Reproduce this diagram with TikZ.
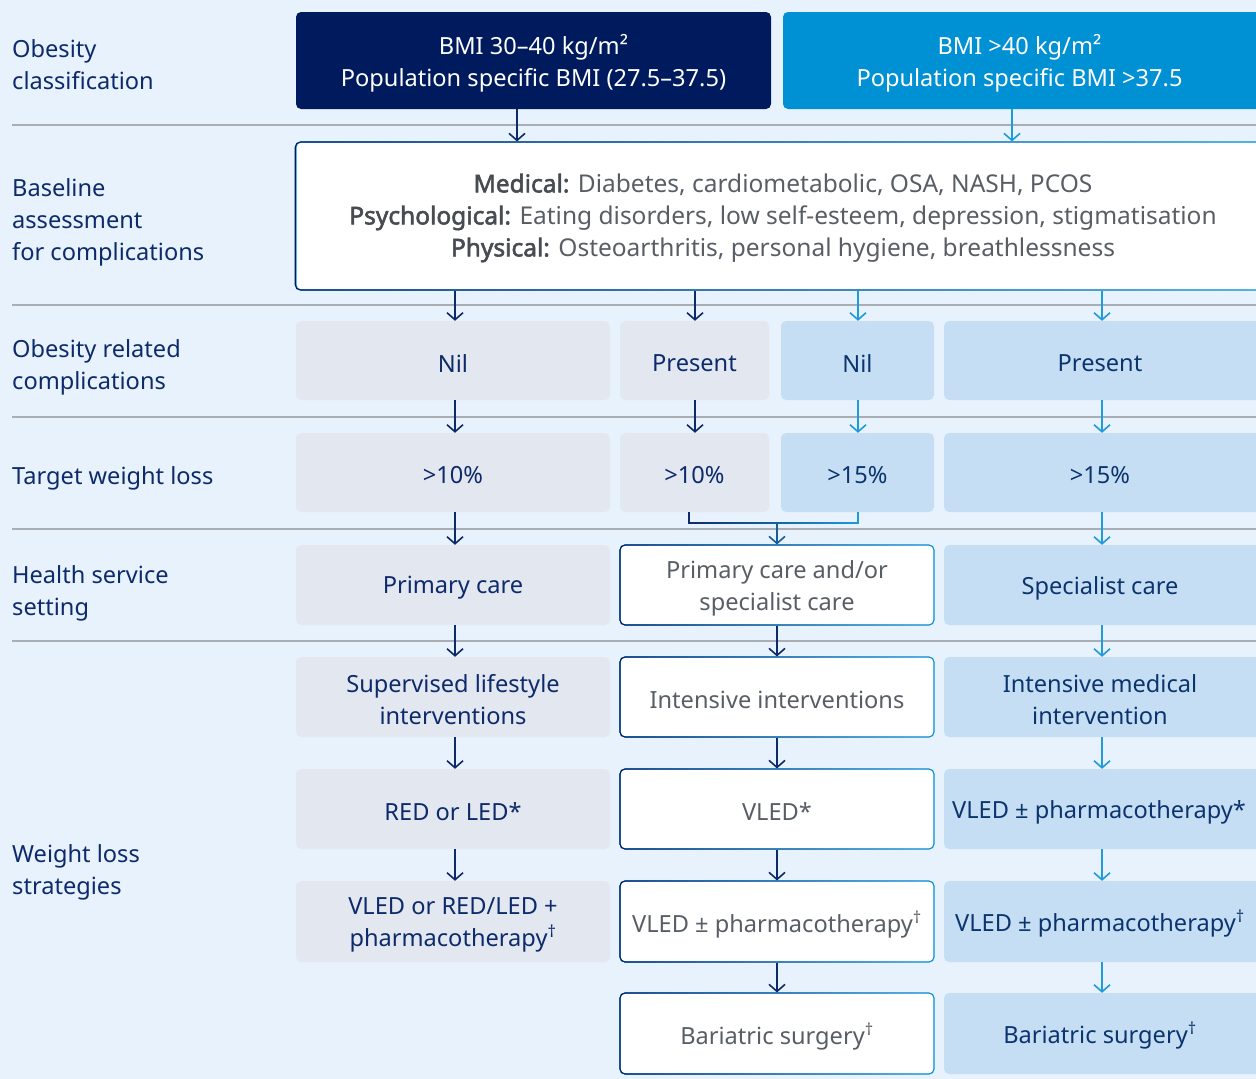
\documentclass[tikz,border=0pt]{standalone}
\usepackage{fontspec}
\setmainfont{Noto Sans}[BoldFont={Noto Sans}, BoldFeatures={FakeBold=2.2}]
\usetikzlibrary{arrows.meta,fadings}
\definecolor{bg}{HTML}{E8F2FC}
\definecolor{navy}{HTML}{001A5E}
\definecolor{bright}{HTML}{0090D4}
\definecolor{greybox}{HTML}{E3E7F0}
\definecolor{bluebox}{HTML}{C6DEF3}
\definecolor{txt}{HTML}{0D2A6B}
\definecolor{btxt}{HTML}{0B346E}
\definecolor{gtxt}{HTML}{595E66}
\definecolor{sep}{HTML}{A8AEB4}
\definecolor{arrN}{HTML}{0D2A6B}
\definecolor{arrB}{HTML}{1E9BDB}
% box: name, x1, y1, x2, y2, style, text (text drawn slightly lower as in the reference)
\newcommand\bx[7]{\node[#6, minimum width={#4-#2}, minimum height={#5-#3}] (#1) at ({(#2+#4)/2},{(#3+#5)/2}) {};
  \node[#6txt] (#1t) at ({(#2+#4)/2},{(#3+#5)/2+3}) {#7};}
\tikzset{
  every node/.style={font=\fontsize{23.6}{32}\selectfont, inner sep=0pt, align=center},
  lab/.style={anchor=west, text=txt, align=left},
  sepline/.style={draw=sep, line width=1.2pt},
  boxbase/.style={rounded corners=5pt},
  navybox/.style={boxbase, fill=navy},
  brightbox/.style={boxbase, fill=bright},
  greyb/.style={boxbase, fill=greybox},
  blueb/.style={boxbase, fill=bluebox},
  whiteb/.style={boxbase, fill=white, draw=bright, line width=1.1pt,
     postaction={draw=navy, line width=1.1pt, path fading=east}},
  navyboxtxt/.style={text=white},
  brightboxtxt/.style={text=white},
  greybtxt/.style={text=txt},
  bluebtxt/.style={text=btxt},
  whitebtxt/.style={text=gtxt},
  na/.style={draw=arrN, line width=1.6pt, -{Straight Barb[length=7pt,width=16pt,line width=1.6pt]}},
  ba/.style={draw=arrB, line width=1.6pt, -{Straight Barb[length=7pt,width=16pt,line width=1.6pt]}},
  ma/.style={draw=arrN!55!arrB, line width=1.6pt, -{Straight Barb[length=7pt,width=16pt,line width=1.6pt]}},
}
\begin{document}
\begin{tikzpicture}[x=1pt,y=-1pt]
\useasboundingbox (0,0) rectangle (1256,1079);
\fill[bg] (0,0) rectangle (1256,1079);
\clip (0,0) rectangle (1256,1079);

% separators
\foreach \yy in {125,305,417,529,641} \draw[sepline] (12,\yy) -- (1256,\yy);

% left labels
\node[lab] (l1) at (12,65) {Obesity\\classification};
\node[lab] (l2) at (12,222) {Baseline\\assessment\\for complications};
\node[lab] (l3) at (12,367) {Obesity related\\complications};
\node[lab] (l4) at (12,478) {Target weight loss};
\node[lab] (l5) at (12,593) {Health service\\setting};
\node[lab] (l6) at (12,872) {Weight loss\\strategies};

% row 1
\bx{bmiA}{296}{12}{771}{109}{navybox}{BMI 30–40 kg/m²\\Population specific BMI (27.5–37.5)}
\bx{bmiB}{783}{12}{1266}{109}{brightbox}{}
\node[text=white] (bmiBt) at (1019.5,63) {BMI >40 kg/m²\\Population specific BMI >37.5};

% baseline
\bx{base}{296}{142}{1266}{290}{whiteb}{}
\node[text=gtxt, font=\fontsize{24.5}{32}\selectfont] (basetext) at (783,218) {{\bfseries\color{gtxt!80!black}Medical:} Diabetes, cardiometabolic, OSA, NASH, PCOS\\
{\bfseries\color{gtxt!80!black}Psychological:} Eating disorders, low self-esteem, depression, stigmatisation\\
{\bfseries\color{gtxt!80!black}Physical:} Osteoarthritis, personal hygiene, breathlessness};

% row 3
\bx{c1}{296}{321}{610}{400}{greyb}{Nil}
\bx{c2}{620}{321}{769}{400}{greyb}{Present}
\bx{c3}{781}{321}{934}{400}{blueb}{Nil}
\bx{c4}{944}{321}{1266}{400}{blueb}{}
\node[text=btxt] (c4x) at (1100,363) {Present};
% row 4
\bx{t1}{296}{433}{610}{512}{greyb}{>10\%}
\bx{t2}{620}{433}{769}{512}{greyb}{>10\%}
\bx{t3}{781}{433}{934}{512}{blueb}{>15\%}
\bx{t4}{944}{433}{1266}{512}{blueb}{}
\node[text=btxt] (t4x) at (1100,475) {>15\%};
% row 5
\bx{h1}{296}{545}{610}{625}{greyb}{Primary care}
\bx{h2}{620}{545}{934}{625}{whiteb}{Primary care and/or\\specialist care}
\bx{h4}{944}{545}{1266}{625}{blueb}{}
\node[text=btxt] (h4x) at (1100,588) {Specialist care};
% row 6
\bx{s1}{296}{657}{610}{737}{greyb}{Supervised lifestyle\\interventions}
\bx{s2}{620}{657}{934}{737}{whiteb}{Intensive interventions}
\bx{s4}{944}{657}{1266}{737}{blueb}{}
\node[text=btxt] (s4x) at (1100,700) {Intensive medical\\intervention};
% row 7
\bx{r1}{296}{769}{610}{849}{greyb}{RED or LED*}
\bx{r2}{620}{769}{934}{849}{whiteb}{VLED*}
\bx{r4}{944}{769}{1266}{849}{blueb}{}
\node[text=btxt, anchor=west] (r4x) at (952,812) {VLED ± pharmacotherapy*};
% row 8
\bx{v1}{296}{881}{610}{962}{greyb}{VLED or RED/LED +\\pharmacotherapy\textsuperscript{†}}
\bx{v2}{620}{881}{934}{962}{whiteb}{VLED ± pharmacotherapy\textsuperscript{†}}
\bx{v4}{944}{881}{1266}{962}{blueb}{}
\node[text=btxt, anchor=west] (v4x) at (955,924) {VLED ± pharmacotherapy\textsuperscript{†}};
% row 9
\bx{b2}{620}{993}{934}{1074}{whiteb}{Bariatric surgery\textsuperscript{†}}
\bx{b4}{944}{993}{1266}{1074}{blueb}{}
\node[text=btxt] (b4x) at (1100,1036) {Bariatric surgery\textsuperscript{†}};

% coordinates for arrow columns
\coordinate (xA) at (517,0);
\coordinate (xB) at (1012,0);
\coordinate (x1) at (455,0);
\coordinate (x2) at (695,0);
\coordinate (x3) at (858,0);
\coordinate (x4) at (1102,0);
\coordinate (xL) at (689,0);
\coordinate (xM) at (777,0);

% arrows row1 -> baseline
\draw[na] (bmiA.south -| xA) -- (base.north -| xA);
\draw[ba] (bmiB.south -| xB) -- (base.north -| xB);
% baseline -> row3
\draw[na] (base.south -| x1) -- (c1.north -| x1);
\draw[na] (base.south -| x2) -- (c2.north -| x2);
\draw[ba] (base.south -| x3) -- (c3.north -| x3);
\draw[ba] (base.south -| x4) -- (c4.north -| x4);
% row3 -> row4
\draw[na] (c1.south -| x1) -- (t1.north -| x1);
\draw[na] (c2.south -| x2) -- (t2.north -| x2);
\draw[ba] (c3.south -| x3) -- (t3.north -| x3);
\draw[ba] (c4.south -| x4) -- (t4.north -| x4);
% row4 -> row5
\draw[na] (t1.south -| x1) -- (h1.north -| x1);
\coordinate (mj) at (777,523);
\draw[draw=arrB, line width=1.6pt] (t2.south -| xL) |- (mj) -| (t3.south -| x3);
\draw[draw=arrN, line width=1.6pt, path fading=east] (t2.south -| xL) |- (mj) -| (t3.south -| x3);
\draw[ma] (mj) -- (h2.north -| xM);
\draw[ba] (t4.south -| x4) -- (h4.north -| x4);
% row5 -> row6
\draw[na] (h1.south -| x1) -- (s1.north -| x1);
\draw[na] (h2.south -| xM) -- (s2.north -| xM);
\draw[ba] (h4.south -| x4) -- (s4.north -| x4);
% row6 -> row7
\draw[na] (s1.south -| x1) -- (r1.north -| x1);
\draw[na] (s2.south -| xM) -- (r2.north -| xM);
\draw[ba] (s4.south -| x4) -- (r4.north -| x4);
% row7 -> row8
\draw[na] (r1.south -| x1) -- (v1.north -| x1);
\draw[na] (r2.south -| xM) -- (v2.north -| xM);
\draw[ba] (r4.south -| x4) -- (v4.north -| x4);
% row8 -> row9
\draw[na] (v2.south -| xM) -- (b2.north -| xM);
\draw[ba] (v4.south -| x4) -- (b4.north -| x4);
\end{tikzpicture}
\end{document}
